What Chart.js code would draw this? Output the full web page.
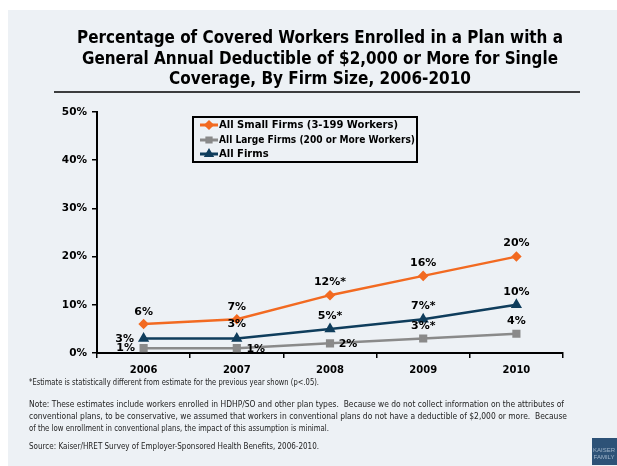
<!DOCTYPE html>
<html>
<head>
<meta charset="utf-8">
<script src="https://cdn.jsdelivr.net/npm/chart.js@4"></script>
<style>
  html, body { margin: 0; padding: 0; background: #fff; }
  #wrap { width: 617px; height: 466px; position: relative; }
</style>
</head>
<body>
<div id="wrap"><canvas id="myChart" width="617" height="466"></canvas></div>
<script>
// data
const years = ['2006', '2007', '2008', '2009', '2010'];
const smallFirms = [6, 7, 12, 16, 20];
const largeFirms = [1, 1, 2, 3, 4];
const allFirms = [3, 3, 5, 7, 10];
const smallLabels = ['6%', '7%', '12%*', '16%', '20%'];
const largeLabels = ['1%', '1%', '2%', '3%*', '4%'];
const allLabels = ['3%', '3%', '5%*', '7%*', '10%'];
const yTicks = [0, 10, 20, 30, 40, 50];

const titleLines = [
  'Percentage of Covered Workers Enrolled in a Plan with a',
  'General Annual Deductible of $2,000 or More for Single',
  'Coverage, By Firm Size, 2006-2010'
];
const footLines = [
  '*Estimate is statistically different from estimate for the previous year shown (p<.05).',
  'Note: These estimates include workers enrolled in HDHP/SO and other plan types.  Because we do not collect information on the attributes of',
  'conventional plans, to be conservative, we assumed that workers in conventional plans do not have a deductible of $2,000 or more.  Because',
  'of the low enrollment in conventional plans, the impact of this assumption is minimal.',
  'Source: Kaiser/HRET Survey of Employer-Sponsored Health Benefits, 2006-2010.'
];

// where each data label sits relative to its point (dx, dy)
const smallOffsets = [[0, -12], [0, -12], [0, -13], [0, -13], [0, -13]];
const largeOffsets = [[-18, 0], [19, 1], [18, 1], [0, -12], [0, -13]];
const allOffsets = [[-19, 1], [0, -14], [0, -13], [0, -13], [0, -13]];

const boldFont = '"DejaVu Sans", Verdana, sans-serif';

const slideBg = {
  id: 'slideBg',
  beforeDraw(chart) {
    const c = chart.ctx;
    c.save();
    c.fillStyle = '#ffffff';
    c.fillRect(0, 0, chart.width, chart.height);
    c.fillStyle = '#edf1f5';
    c.fillRect(8, 10, chart.width - 8, chart.height - 10);
    c.restore();
  }
};

const slideText = {
  id: 'slideText',
  afterDraw(chart) {
    const c = chart.ctx;
    c.save();
    // title
    c.fillStyle = '#000';
    c.textAlign = 'center';
    c.textBaseline = 'middle';
    c.font = 'bold 17px "DejaVu Sans", sans-serif';
    const tw = [486, 476, 302];
    titleLines.forEach((t, i) => c.fillText(t, 320, 39 + i * 20.5, tw[i]));
    c.strokeStyle = '#000';
    c.lineWidth = 1.5;
    c.beginPath();
    c.moveTo(54, 92);
    c.lineTo(580, 92);
    c.stroke();

    // footnotes
    c.textAlign = 'left';
    c.fillStyle = '#222';
    c.font = '9px "DejaVu Sans Condensed", "DejaVu Sans", sans-serif';
    const fy = [383, 405, 417, 429, 447];
    const fw = [290, 535, 538, 300, 290];
    footLines.forEach((t, i) => c.fillText(t, 29, fy[i], fw[i]));

    // legend box
    c.strokeStyle = '#000';
    c.lineWidth = 2;
    c.strokeRect(193, 117, 224, 45);
    c.font = 'bold 10px ' + boldFont;
    c.textBaseline = 'middle';
    const rows = [125, 140, 154];
    chart.data.datasets.forEach((ds, i) => {
      const y = rows[i];
      c.strokeStyle = ds.borderColor;
      c.lineWidth = 3;
      c.beginPath();
      c.moveTo(200, y);
      c.lineTo(218, y);
      c.stroke();
      Chart.helpers.drawPoint(c, {pointStyle: ds.pointStyle, radius: 3, borderWidth: 1}, 209, y);
      c.fillStyle = ds.borderColor;
      c.fill();
      c.fillStyle = '#000';
      c.fillText(ds.label, 219, y + 0.5, 196);
    });

    // data labels
    c.textAlign = 'center';
    c.font = 'bold 11px ' + boldFont;
    c.fillStyle = '#000';
    chart.data.datasets.forEach((ds, i) => {
      const meta = chart.getDatasetMeta(i);
      meta.data.forEach((pt, j) => {
        const off = ds.labelOffsets[j];
        c.fillText(ds.pointLabels[j], pt.x + off[0], pt.y + off[1]);
      });
    });

    // logo corner
    c.fillStyle = '#2d5277';
    c.fillRect(592, 438, 25, 27);
    c.fillStyle = '#9fb4c9';
    c.font = '6px sans-serif';
    c.fillText('KAISER', 604, 450);
    c.fillText('FAMILY', 604, 457);
    c.restore();
  }
};

const ctx = document.getElementById('myChart');
new Chart(ctx, {
  type: 'line',
  data: {
    labels: years,
    datasets: [
      {
        label: 'All Small Firms (3-199 Workers)',
        data: smallFirms,
        pointLabels: smallLabels,
        labelOffsets: smallOffsets,
        borderColor: '#f26a21',
        backgroundColor: '#f26a21',
        pointStyle: 'rectRot',
        pointRadius: 3.5,
        borderWidth: 2.5
      },
      {
        label: 'All Large Firms (200 or More Workers)',
        data: largeFirms,
        pointLabels: largeLabels,
        labelOffsets: largeOffsets,
        borderColor: '#8a8a8a',
        backgroundColor: '#8a8a8a',
        pointStyle: 'rect',
        pointRadius: 4,
        borderWidth: 2.5
      },
      {
        label: 'All Firms',
        data: allFirms,
        pointLabels: allLabels,
        labelOffsets: allOffsets,
        borderColor: '#0f3d5c',
        backgroundColor: '#0f3d5c',
        pointStyle: 'triangle',
        pointRadius: 4,
        borderWidth: 2.5
      }
    ]
  },
  options: {
    responsive: false,
    animation: false,
    layout: { padding: { left: 0, top: 112, right: 54, bottom: 83 } },
    plugins: {
      legend: { display: false },
      tooltip: { enabled: false }
    },
    scales: {
      x: {
        offset: true,
        grid: { offset: true, drawOnChartArea: false, drawTicks: true, tickLength: 5, color: '#000', lineWidth: 1.5 },
        border: { display: true, color: '#000', width: 2 },
        ticks: { color: '#000', font: { family: boldFont, size: 10, weight: 'bold' }, padding: 6, maxRotation: 0 },
        afterFit: (s) => { s.height = 30; }
      },
      y: {
        min: 0,
        max: 50,
        afterBuildTicks: (s) => { s.ticks = yTicks.map((v) => ({ value: v })); },
        grid: { drawOnChartArea: false, drawTicks: true, tickLength: 5, color: '#000', lineWidth: 1.5 },
        border: { display: true, color: '#000', width: 2 },
        ticks: { color: '#000', font: { family: boldFont, size: 10.5, weight: 'bold' }, padding: 5, callback: (v) => v + '%' },
        afterFit: (s) => { s.width = 97; }
      }
    }
  },
  plugins: [slideBg, slideText]
});
</script>
</body>
</html>
